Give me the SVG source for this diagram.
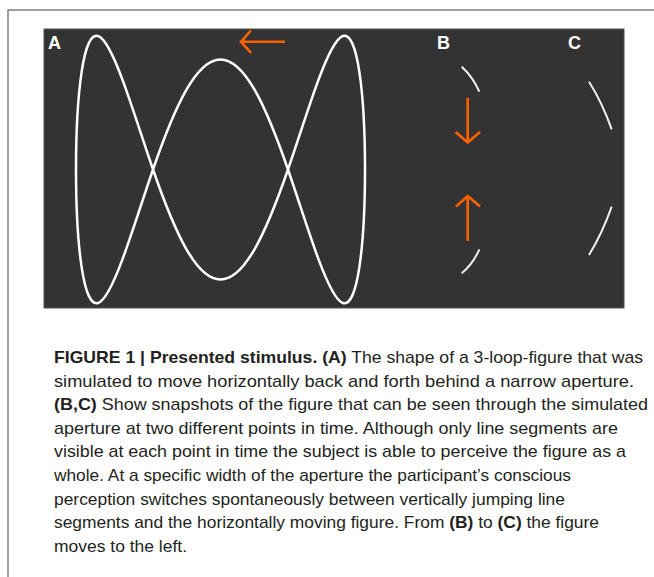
<svg xmlns="http://www.w3.org/2000/svg" width="654" height="577" viewBox="0 0 654 577">
<style>
.frame{fill:none;stroke:#808080;stroke-width:1.5}
.panel{fill:#333333;stroke:#555555;stroke-width:1}
.curve{fill:none;stroke:#ffffff;stroke-width:2.5;stroke-linejoin:round}
.seg{fill:none;stroke:#f2f2f2;stroke-width:2;stroke-linecap:butt}
.arrow{fill:none;stroke:#ff6000;stroke-width:2.6;stroke-linecap:butt;stroke-linejoin:miter}
.lbl{font-family:"Liberation Sans",Arial,sans-serif;font-weight:bold;font-size:18px;fill:#ffffff}
.cap{font-family:"Liberation Sans",Arial,sans-serif;font-size:17px;fill:#231f20}
.b{font-weight:bold}
</style>
<rect width="654" height="577" fill="#ffffff"/>
<path class="frame" d="M8,577 V10 H654"/>
<g id="panel">
<rect class="panel" x="44" y="29" width="580" height="279"/>
</g>
<g id="panelA">
<text class="lbl" x="48" y="49">A</text>
<path class="curve" d="M220.5,279.5 C232,279.5 243.51,268.56 254.83,248.77 C266.15,228.98 277.3,200.35 287.98,169.5 C298.66,138.65 308.87,105.84 318.18,80.65 C327.49,55.46 335.89,38.39 342.89,36.02 C349.89,33.65 355.47,46.27 359.25,71.07 C363.03,95.87 365,132.51 365,169.5 C365,206.49 363.03,243.13 359.25,267.93 C355.47,292.73 349.89,305.35 342.89,302.98 C335.89,300.61 327.49,283.54 318.18,258.35 C308.87,233.16 298.66,200.35 287.98,169.5 C277.3,138.65 266.15,110.02 254.83,90.23 C243.51,70.44 232,59.5 220.5,59.5 C209,59.5 197.49,70.44 186.17,90.23 C174.85,110.02 163.7,138.65 153.02,169.5 C142.34,200.35 132.13,233.16 122.82,258.35 C113.51,283.54 105.11,300.61 98.11,302.98 C91.11,305.35 85.53,292.73 81.75,267.93 C77.97,243.13 76,206.49 76,169.5 C76,132.51 77.97,95.87 81.75,71.07 C85.53,46.27 91.11,33.65 98.11,36.02 C105.11,38.39 113.51,55.46 122.82,80.65 C132.13,105.84 142.34,138.65 153.02,169.5 C163.7,200.35 174.85,228.98 186.17,248.77 C197.49,268.56 209,279.5 220.5,279.5 Z"/>
<path class="arrow" d="M285,41.7 H241.5 M251,30.5 L241,41.7 L251,53"/>
</g>
<g id="panelB">
<text class="lbl" x="437" y="49">B</text>
<path class="seg" d="M461.7,66.7 Q473,77 479.3,91.7"/>
<path class="seg" d="M479.3,249.3 Q473,264 461.7,273.3"/>
<path class="arrow" d="M467.7,97.7 V141.5 M455.7,132 L467.7,142.5 L480,132"/>
<path class="arrow" d="M467.7,241 V197 M456,206.5 L467.7,196 L480,206.5"/>
</g>
<g id="panelC">
<text class="lbl" x="568" y="49">C</text>
<path class="seg" d="M589,81.7 Q602,102 611.7,129.3"/>
<path class="seg" d="M611.7,206.7 Q602,234 589,255"/>
</g>
<g id="caption" class="cap">
<text x="54" y="363" textLength="589" lengthAdjust="spacingAndGlyphs"><tspan class="b">FIGURE 1 | Presented stimulus. (A)</tspan> The shape of a 3-loop-figure that was</text>
<text x="54" y="386.6" textLength="580" lengthAdjust="spacingAndGlyphs">simulated to move horizontally back and forth behind a narrow aperture.</text>
<text x="54" y="410.2" textLength="594" lengthAdjust="spacingAndGlyphs"><tspan class="b">(B,C)</tspan> Show snapshots of the figure that can be seen through the simulated</text>
<text x="54" y="433.8" textLength="564" lengthAdjust="spacingAndGlyphs">aperture at two different points in time. Although only line segments are</text>
<text x="54" y="457.4" textLength="572" lengthAdjust="spacingAndGlyphs">visible at each point in time the subject is able to perceive the figure as a</text>
<text x="54" y="481" textLength="517" lengthAdjust="spacingAndGlyphs">whole. At a specific width of the aperture the participant’s conscious</text>
<text x="54" y="504.6" textLength="511" lengthAdjust="spacingAndGlyphs">perception switches spontaneously between vertically jumping line</text>
<text x="54" y="528.2" textLength="545" lengthAdjust="spacingAndGlyphs">segments and the horizontally moving figure. From <tspan class="b">(B)</tspan> to <tspan class="b">(C)</tspan> the figure</text>
<text x="54" y="551.8" textLength="133" lengthAdjust="spacingAndGlyphs">moves to the left.</text>
</g>
</svg>
